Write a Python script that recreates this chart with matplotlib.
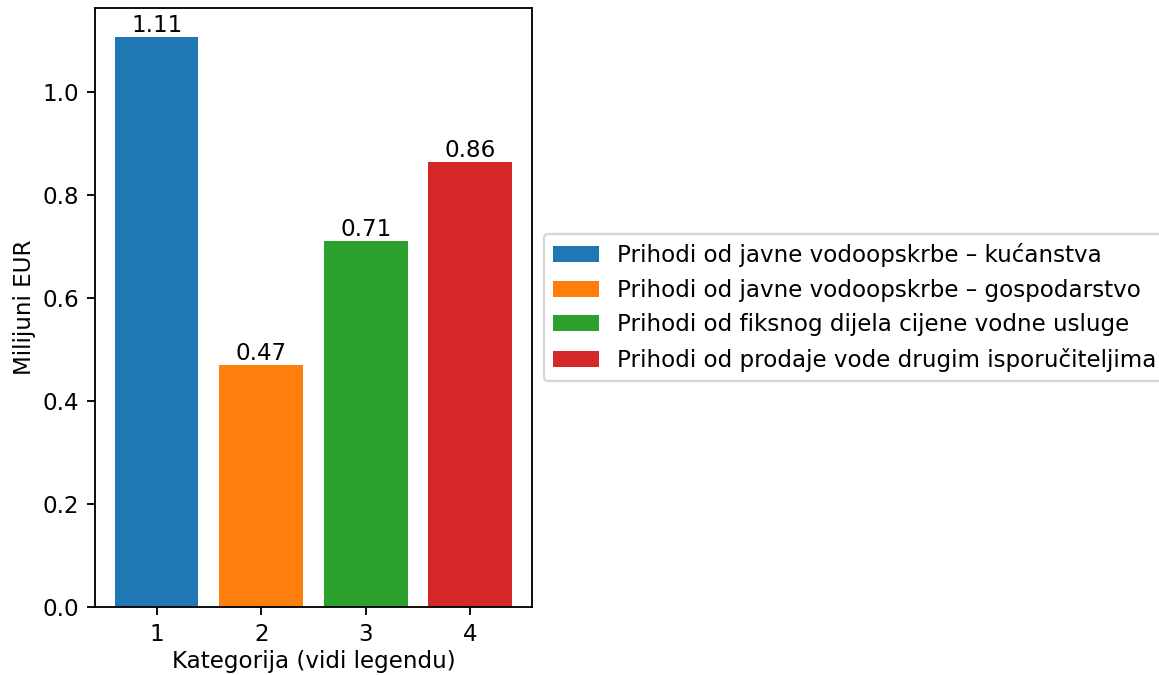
import matplotlib
matplotlib.use("Agg")
import matplotlib.pyplot as plt

categories = [1, 2, 3, 4]
values = [1.108, 0.47, 0.71, 0.865]
labels = [
    "Prihodi od javne vodoopskrbe – kućanstva",
    "Prihodi od javne vodoopskrbe – gospodarstvo",
    "Prihodi od fiksnog dijela cijene vodne usluge",
    "Prihodi od prodaje vode drugim isporučiteljima",
]
colors = ["#1f77b4", "#ff7f0e", "#2ca02c", "#d62728"]

plt.rcParams["font.family"] = ["DejaVu Sans"]
plt.rcParams["font.size"] = 10

DPI = 166
fig = plt.figure(figsize=(1159 / DPI, 675 / DPI), dpi=DPI)
ax = fig.add_axes([95 / 1159, 68 / 675, 437 / 1159, 599 / 675])

bars = ax.bar(categories, values, width=0.8, color=colors, label=labels)
for b, v in zip(bars, values):
    ax.annotate(f"{v:.2f}", (b.get_x() + b.get_width() / 2, v),
                ha="center", va="bottom")

ax.set_xticks(categories)
ax.set_xlabel("Kategorija (vidi legendu)", labelpad=1.5)
ax.set_ylabel("Milijuni EUR", labelpad=2.5)
ax.legend(handles=list(bars), labels=labels, loc="center left",
          bbox_to_anchor=(1.0, 0.5))

fig.savefig("out.png", dpi=DPI)
